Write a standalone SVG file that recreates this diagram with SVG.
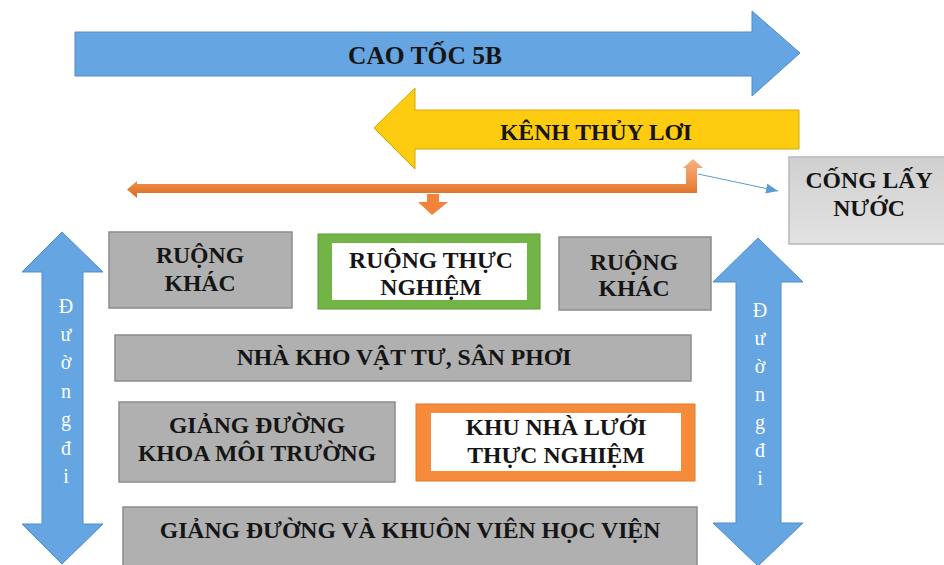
<svg xmlns="http://www.w3.org/2000/svg" width="944" height="565" viewBox="0 0 944 565">
<style>
.t{font-family:"Liberation Serif","Times New Roman",serif;font-weight:bold;font-size:23.7px;fill:#151515;text-anchor:middle}
.v{font-family:"Liberation Serif","Times New Roman",serif;font-size:20px;fill:#ffffff;text-anchor:middle}
.gray{fill:#b0b0b0;stroke:#8c8c8c;stroke-width:1.5}
.blue{fill:#64a5e2;stroke:#4f8dca;stroke-width:1}
</style>
<defs>
<linearGradient id="og" gradientUnits="userSpaceOnUse" x1="0" y1="159" x2="0" y2="194">
<stop offset="0" stop-color="#f9b27e"/><stop offset="0.7" stop-color="#ec8a45"/><stop offset="1" stop-color="#dc7229"/>
</linearGradient>
<linearGradient id="cg" x1="0" y1="0" x2="0" y2="1">
<stop offset="0" stop-color="#d0d0d0"/><stop offset="1" stop-color="#e2e2e2"/>
</linearGradient>
<marker id="ah" markerWidth="12" markerHeight="10" refX="12" refY="5" orient="auto" markerUnits="userSpaceOnUse">
<path d="M0,0 L12,5 L0,10 Z" fill="#5b9bd5"/>
</marker>
</defs>
<rect width="944" height="565" fill="#ffffff"/>

<g id="cao-toc">
<polygon class="blue" points="75,32 752,32 752,11 800,53 752,96 752,76 75,76"/>
<text class="t" x="425" y="64" style="font-size:25.5px">CAO TỐC 5B</text>
</g>

<g id="kenh-thuy-loi">
<polygon points="799,110 415,110 415,88 374,128 415,169 415,149 799,149" fill="#fdcb10" stroke="#d3a800" stroke-width="1"/>
<text class="t" x="596" y="140">KÊNH THỦY LƠI</text>
</g>

<g id="cong-lay-nuoc">
<rect x="789" y="157" width="160" height="87" fill="url(#cg)" stroke="#b8b8b8" stroke-width="1.5"/>
<text class="t" x="869" y="188">CỐNG LẤY</text>
<text class="t" x="869" y="216">NƯỚC</text>
</g>

<g id="duong-di-trai">
<polygon class="blue" points="62,232 103,272 83,272 83,524 103,524 62,564 22,524 42,524 42,272 22,272"/>
<text class="v" x="66" y="313">Đ</text>
<text class="v" x="66" y="341">ư</text>
<text class="v" x="66" y="369">ờ</text>
<text class="v" x="66" y="398">n</text>
<text class="v" x="66" y="426">g</text>
<text class="v" x="66" y="455">đ</text>
<text class="v" x="66" y="483">i</text>
</g>

<g id="duong-di-phai">
<polygon class="blue" points="758,238 803,282 781,282 781,523 803,523 758,566 713,523 736,523 736,282 713,282"/>
<text class="v" x="760" y="317">Đ</text>
<text class="v" x="760" y="345">ư</text>
<text class="v" x="760" y="373">ờ</text>
<text class="v" x="760" y="401">n</text>
<text class="v" x="760" y="429">g</text>
<text class="v" x="760" y="457">đ</text>
<text class="v" x="760" y="485">i</text>
</g>

<g id="ruong-khac-1">
<rect class="gray" x="109" y="232" width="183" height="76"/>
<text class="t" x="200" y="263">RUỘNG</text>
<text class="t" x="200" y="291">KHÁC</text>
</g>

<g id="ruong-thuc-nghiem">
<rect x="318" y="234" width="222" height="75" fill="#72b445" stroke="#5e9a38" stroke-width="1"/>
<rect x="332" y="243" width="195" height="57" fill="#ffffff"/>
<text class="t" x="431" y="268">RUỘNG THỰC</text>
<text class="t" x="431" y="295">NGHIỆM</text>
</g>

<g id="ruong-khac-2">
<rect class="gray" x="559" y="237" width="152" height="73"/>
<text class="t" x="634" y="270">RUỘNG</text>
<text class="t" x="634" y="296">KHÁC</text>
</g>

<g id="nha-kho">
<rect class="gray" x="115" y="335" width="576" height="46"/>
<text class="t" x="404" y="365">NHÀ KHO VẬT TƯ, SÂN PHƠI</text>
</g>

<g id="giang-duong-khoa">
<rect class="gray" x="119" y="402" width="276" height="80"/>
<text class="t" x="257" y="433">GIẢNG ĐƯỜNG</text>
<text class="t" x="257" y="461">KHOA MÔI TRƯỜNG</text>
</g>

<g id="khu-nha-luoi">
<rect x="416" y="404" width="279" height="77" fill="#f68b3c" stroke="#e0782c" stroke-width="1"/>
<rect x="431" y="413" width="250" height="58" fill="#ffffff"/>
<text class="t" x="556" y="435">KHU NHÀ LƯỚI</text>
<text class="t" x="556" y="463">THỰC NGHIỆM</text>
</g>

<g id="giang-duong-hoc-vien">
<rect class="gray" x="123" y="507" width="574" height="70"/>
<text class="t" x="410" y="538">GIẢNG ĐƯỜNG VÀ KHUÔN VIÊN HỌC VIỆN</text>
</g>

<g id="connectors">
<path d="M127,189.5 L137,181 L137,184 L686,184 L686,168 L683,168 L693,159 L703,168 L697,168 L697,193 L137,193 L137,198 Z" fill="url(#og)"/>
<polygon points="427,194 439,194 439,202 448,202 432,215 418,202 427,202" fill="#f1843a"/>
<line x1="698" y1="174" x2="778" y2="191" stroke="#5b9bd5" stroke-width="1" marker-end="url(#ah)"/>
</g>
</svg>
